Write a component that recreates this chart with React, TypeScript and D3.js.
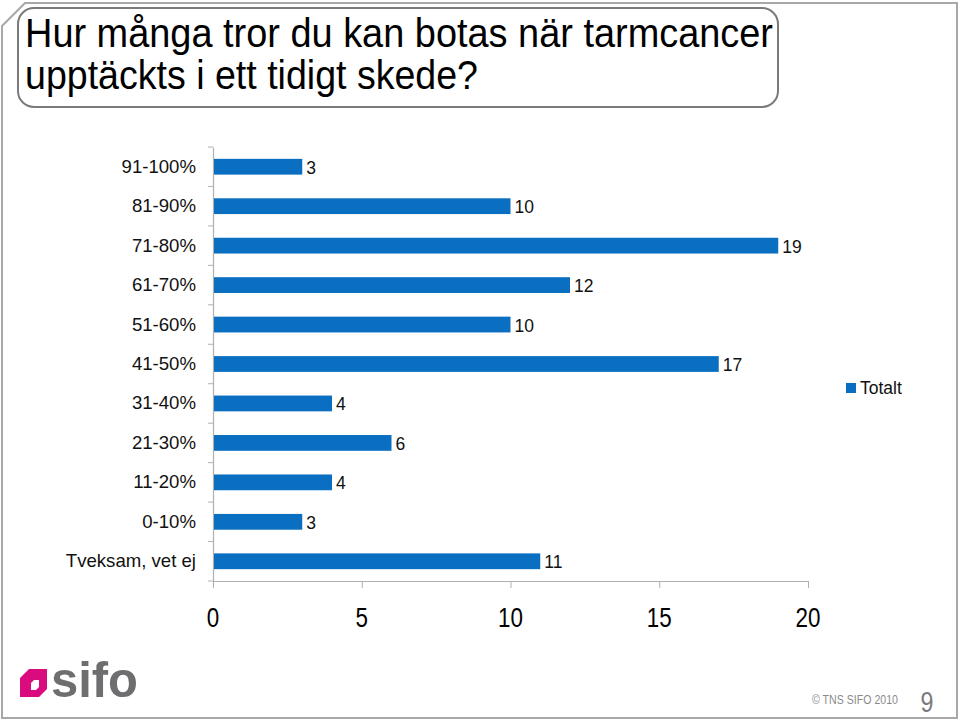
import React, { useRef, useEffect } from "react";
import { select, scaleLinear, scaleBand, axisBottom, axisLeft } from "d3";

// data (top to bottom)
const categories = [
  "91-100%",
  "81-90%",
  "71-80%",
  "61-70%",
  "51-60%",
  "41-50%",
  "31-40%",
  "21-30%",
  "11-20%",
  "0-10%",
  "Tveksam, vet ej",
];
const totalt = [3, 10, 19, 12, 10, 17, 4, 6, 4, 3, 11];
const xTicks = [0, 5, 10, 15, 20];
const titleLines = [
  "Hur många tror du kan botas när tarmcancer",
  "upptäckts i ett tidigt skede?",
];
const seriesName = "Totalt";

const BLUE = "#0B6FC1";
const SANS = "'Liberation Sans', Arial, sans-serif";

function App() {
  const svgRef = useRef(null);

  useEffect(() => {
    const svg = select(svgRef.current);
    svg.selectAll("*").remove();

    // slide frame with the clipped corner
    svg
      .append("path")
      .attr("d", "M2,26 L25,3 L957,3 L957,718 L2,718 Z")
      .attr("fill", "#fff")
      .attr("stroke", "#A8A8A8")
      .attr("stroke-width", 2);

    // title box
    svg
      .append("rect")
      .attr("x", 18)
      .attr("y", 8)
      .attr("width", 760)
      .attr("height", 99)
      .attr("rx", 16)
      .attr("fill", "#fff")
      .attr("stroke", "#7A7A7A")
      .attr("stroke-width", 2);

    // condensed look: bigger font squeezed to the measured width
    const titleW = [748, 453];
    svg
      .selectAll(".title")
      .data(titleLines)
      .join("text")
      .attr("class", "title")
      .attr("x", 25)
      .attr("y", (d, i) => 47 + i * 42)
      .attr("textLength", (d, i) => titleW[i])
      .attr("lengthAdjust", "spacingAndGlyphs")
      .style("font-family", SANS)
      .style("font-size", "41px")
      .attr("fill", "#000")
      .text((d) => d);

    const xScale = scaleLinear().domain([0, 20]).range([213, 808]);
    const yScale = scaleBand()
      .domain(categories)
      .range([147, 581])
      .paddingInner(0.6)
      .paddingOuter(0.3);

    // y axis: line + ticks at band edges
    const yAxis = axisLeft(yScale).tickSize(0).tickFormat(() => "");
    const gy = svg.append("g").attr("transform", "translate(213,0)").call(yAxis);
    gy.select(".domain").attr("stroke", "#B0B0B0").attr("stroke-width", 1.2);
    const step = yScale.step();
    const edges = categories.map((c, i) => 147 + i * step).concat([581]);
    svg
      .selectAll(".ytick")
      .data(edges)
      .join("line")
      .attr("class", "ytick")
      .attr("x1", 208)
      .attr("x2", 213)
      .attr("y1", (d) => d)
      .attr("y2", (d) => d)
      .attr("stroke", "#B0B0B0");

    svg
      .selectAll(".cat")
      .data(categories)
      .join("text")
      .attr("class", "cat")
      .attr("x", 196)
      .attr("y", (d) => yScale(d) + yScale.bandwidth() / 2 + 6)
      .attr("text-anchor", "end")
      .style("font-family", SANS)
      .style("font-size", "18.6px")
      .attr("fill", "#111")
      .text((d) => d);

    // x axis
    const xAxis = axisBottom(xScale).tickValues(xTicks).tickSize(7).tickSizeOuter(0).tickFormat(() => "");
    const gx = svg.append("g").attr("transform", "translate(0,581)").call(xAxis);
    gx.select(".domain").attr("stroke", "#B0B0B0").attr("stroke-width", 1.2);
    gx.selectAll(".tick line").attr("stroke", "#B0B0B0");

    svg
      .selectAll(".xlab")
      .data(xTicks)
      .join("text")
      .attr("class", "xlab")
      .attr("transform", (d) => `translate(${xScale(d)},627) scale(0.8,1)`)
      .attr("text-anchor", "middle")
      .style("font-family", SANS)
      .style("font-size", "28px")
      .attr("fill", "#000")
      .text((d) => d);

    // bars
    const rows = categories.map((c, i) => ({ c, v: totalt[i] }));
    svg
      .selectAll(".bar")
      .data(rows)
      .join("rect")
      .attr("class", "bar")
      .attr("x", xScale(0) + 1)
      .attr("y", (d) => yScale(d.c))
      .attr("width", (d) => xScale(d.v) - xScale(0) - 1)
      .attr("height", yScale.bandwidth())
      .attr("fill", BLUE);

    svg
      .selectAll(".val")
      .data(rows)
      .join("text")
      .attr("class", "val")
      .attr("x", (d) => xScale(d.v) + 4)
      .attr("y", (d) => yScale(d.c) + yScale.bandwidth() / 2 + 7)
      .style("font-family", SANS)
      .style("font-size", "17.5px")
      .attr("fill", "#111")
      .text((d) => d.v);

    // legend
    svg
      .append("rect")
      .attr("x", 846)
      .attr("y", 383)
      .attr("width", 10)
      .attr("height", 10)
      .attr("fill", BLUE);
    svg
      .append("text")
      .attr("x", 860)
      .attr("y", 394)
      .style("font-family", SANS)
      .style("font-size", "17.5px")
      .attr("fill", "#111")
      .text(seriesName);

    // sifo logo
    const logo = svg.append("g");
    logo
      .append("path")
      .attr("d", "M20,678 L29,669 L47,669 L47,689 L39,697 L20,697 Z")
      .attr("fill", "#DA0B7E");
    logo
      .append("path")
      .attr("d", "M31,683 L34,680 L39,680 L39,687 L36,690 L31,690 Z")
      .attr("fill", "#fff");
    logo
      .append("text")
      .attr("x", 51)
      .attr("y", 697)
      .attr("textLength", 87)
      .attr("lengthAdjust", "spacingAndGlyphs")
      .style("font-family", SANS)
      .style("font-size", "50px")
      .style("font-weight", "bold")
      .attr("fill", "#6E6E70")
      .text("sifo");

    svg
      .append("text")
      .attr("x", 812)
      .attr("y", 704)
      .attr("textLength", 86)
      .attr("lengthAdjust", "spacingAndGlyphs")
      .style("font-family", SANS)
      .style("font-size", "13px")
      .attr("fill", "#8A8A8A")
      .text("© TNS SIFO 2010");

    svg
      .append("text")
      .attr("transform", "translate(927,712) scale(0.8,1)")
      .attr("text-anchor", "middle")
      .style("font-family", SANS)
      .style("font-size", "29px")
      .attr("fill", "#7A7A7A")
      .text("9");
  }, []);

  return (
    <svg
      ref={svgRef}
      width={960}
      height={721}
      style={{ position: "absolute", left: 0, top: 0, background: "#fff" }}
    />
  );
}

export default App;
